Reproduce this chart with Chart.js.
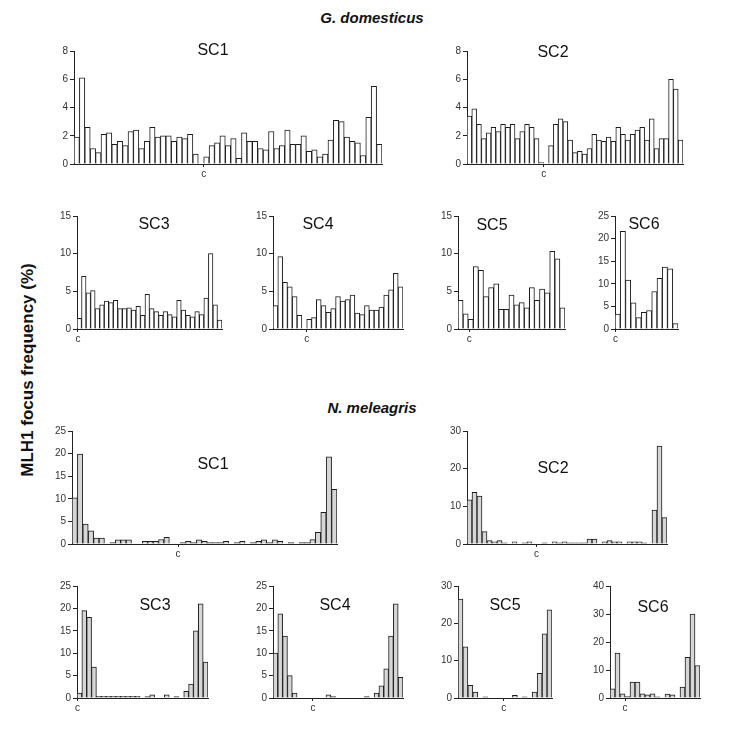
<!DOCTYPE html>
<html>
<head>
<meta charset="utf-8">
<script src="https://cdn.jsdelivr.net/npm/chart.js@4"></script>
<style>
  body { margin: 0; background: #fff; }
  #page { position: relative; width: 740px; height: 734px; font-family: "Liberation Sans", Arial, sans-serif; color: #111; }
  canvas { position: absolute; }
  .head { position: absolute; font-weight: bold; font-style: italic; font-size: 15px; transform: translateX(-50%); white-space: nowrap; }
  .sc { position: absolute; font-size: 16px; transform: translate(-50%, -50%); }
  #ylab { position: absolute; left: 28px; top: 370px; font-weight: bold; font-size: 17px; transform: translate(-50%, -50%) rotate(-90deg); white-space: nowrap; }
</style>
</head>
<body>
<div id="page">
  <div class="head" style="left:372px; top:9px">G. domesticus</div>
  <div class="head" style="left:372px; top:399px">N. meleagris</div>
  <div id="ylab">MLH1 focus frequency (%)</div>
</div>
<script>
// G. domesticus focus frequencies per interval (%)
const gdSC1 = [1.9, 6.1, 2.6, 1.1, 0.8, 2.1, 2.2, 1.4, 1.6, 1.3, 2.3, 2.4, 1.1, 1.6, 2.6, 1.9, 2.0, 2.0, 1.6, 1.9,
  1.8, 2.1, 0.7, 0, 0.5, 1.3, 1.5, 2.0, 1.3, 1.8, 0.4, 2.2, 1.6, 1.6, 1.1, 1.0, 2.3, 1.1, 1.3, 2.4,
  1.4, 1.4, 2.0, 0.9, 1.0, 0.5, 0.7, 1.7, 3.1, 3.0, 1.9, 1.6, 1.5, 0.6, 3.3, 5.5, 1.4];
const gdSC2 = [3.4, 3.9, 2.8, 1.8, 2.2, 2.6, 2.3, 2.8, 2.6, 2.8, 1.8, 2.3, 2.8, 2.6, 1.8, 0.1, 0, 1.3, 2.8, 3.2,
  3.0, 1.7, 0.8, 0.9, 0.7, 1.1, 2.1, 1.7, 1.6, 1.9, 1.6, 2.6, 2.1, 1.7, 2.1, 2.4, 2.6, 1.7, 3.2, 1.1,
  1.8, 1.8, 6.0, 5.3, 1.7];
const gdSC3 = [1.4, 7.0, 4.8, 5.1, 2.7, 3.2, 3.7, 3.5, 3.8, 2.7, 2.7, 2.8, 2.5, 3.0, 1.8, 4.6, 2.7, 2.3, 1.8, 2.3,
  1.9, 1.6, 3.8, 2.5, 1.8, 1.6, 2.3, 1.9, 4.1, 10.0, 3.2, 1.2];
const gdSC4 = [3.1, 9.6, 6.2, 5.6, 4.3, 1.8, 0, 1.3, 1.5, 3.9, 3.1, 2.2, 2.7, 4.3, 3.7, 3.9, 4.5, 2.1, 1.9, 3.1,
  2.5, 2.5, 2.9, 4.5, 5.2, 7.4, 5.6];
const gdSC5 = [3.8, 2.0, 1.3, 8.3, 7.8, 4.3, 5.5, 6.0, 2.6, 2.6, 4.5, 3.2, 3.5, 2.8, 5.5, 3.8, 5.3, 4.8, 10.3, 9.3, 2.8];
const gdSC6 = [3.3, 21.6, 10.8, 5.8, 2.5, 3.7, 4.1, 8.3, 11.2, 13.7, 13.3, 1.2];

// N. meleagris focus frequencies per interval (%)
const nmSC1 = [10.2, 19.9, 4.4, 2.9, 1.3, 1.3, 0, 0.3, 0.9, 0.9, 0.9, 0, 0, 0.6, 0.6, 0.6, 1.0, 1.5, 0, 0,
  0.3, 0.6, 0.3, 0.9, 0.6, 0.3, 0.3, 0.3, 0.6, 0, 0.3, 0.6, 0, 0.3, 0.6, 0.9, 0.3, 0.9, 0.6, 0,
  0.3, 0, 0.3, 0.3, 1.0, 2.6, 7.0, 19.3, 12.1];
const nmSC2 = [11.7, 13.7, 12.7, 3.3, 0.9, 0.6, 0.9, 0.3, 0, 0.6, 0, 0.3, 0.6, 0, 0, 0.3, 0, 0.6, 0.3, 0.6,
  0.3, 0.3, 0.3, 0.3, 1.3, 1.3, 0, 0.6, 0.9, 0.6, 0.6, 0, 0.6, 0.6, 0.6, 0.3, 0, 9.0, 26.0, 7.0];
const nmSC3 = [1.1, 19.5, 18.0, 6.9, 0.4, 0.4, 0.4, 0.4, 0.4, 0.4, 0.4, 0.4, 0.4, 0, 0.3, 0.7, 0, 0, 0.7, 0,
  0.3, 0, 1.5, 3.1, 15.0, 21.0, 8.0];
const nmSC4 = [10.0, 18.8, 13.8, 5.0, 1.1, 0, 0, 0, 0, 0, 0, 0.7, 0.3, 0, 0, 0, 0, 0, 0, 0.3,
  0, 1.1, 2.7, 6.5, 13.8, 21.0, 4.6];
const nmSC5 = [26.5, 13.7, 3.4, 1.6, 0, 0.3, 0, 0, 0, 0, 0, 0.7, 0, 0.3, 0, 1.6, 6.6, 17.2, 23.6];
const nmSC6 = [3.3, 16.0, 1.5, 0.5, 5.7, 5.7, 1.5, 1.1, 1.5, 0.4, 0, 1.4, 1.1, 0, 3.9, 14.5, 30.0, 11.6];

// centromere position (in intervals from the left end)
const gdCen = [24, 16, 0.2, 7, 2.2, 0.1];
const nmCen = [19.6, 13.9, 0.1, 8.3, 9.25, 3];

// y axis maxima and steps
const gdYMax = [8, 8, 15, 15, 15, 25];
const gdYStep = [2, 2, 5, 5, 5, 5];
const nmYMax = [25, 30, 25, 25, 30, 40];
const nmYStep = [5, 10, 5, 5, 10, 10];

const panelNames = ['SC1', 'SC2', 'SC3', 'SC4', 'SC5', 'SC6'];

// plot boxes: y-axis x, top of plot, baseline, right end, title centre
const gdBox = [
  { x: 74, top: 50, base: 164, right: 382, tx: 213, ty: 50 },
  { x: 467, top: 50, base: 164, right: 683, tx: 553, ty: 52 },
  { x: 77, top: 215, base: 329, right: 222, tx: 154, ty: 224 },
  { x: 273, top: 215, base: 329, right: 403, tx: 318, ty: 224 },
  { x: 458, top: 215, base: 329, right: 565, tx: 492, ty: 225 },
  { x: 615, top: 215, base: 329, right: 678, tx: 644, ty: 224 },
];
const nmBox = [
  { x: 72, top: 430, base: 544, right: 337, tx: 213, ty: 464 },
  { x: 467, top: 430, base: 544, right: 667, tx: 553, ty: 468 },
  { x: 77, top: 585, base: 698, right: 208, tx: 155, ty: 605 },
  { x: 273, top: 585, base: 698, right: 403, tx: 335, ty: 605 },
  { x: 458, top: 585, base: 698, right: 552, tx: 505, ty: 605 },
  { x: 610, top: 585, base: 698, right: 700, tx: 653, ty: 607 },
];

const Y_W = 26, X_H = 16, PAD_T = 7, PAD_R = 3;
const page = document.getElementById('page');

function makePanel(values, cen, yMax, yStep, box, name, fill) {
  const cv = document.createElement('canvas');
  const w = box.right - box.x + Y_W + PAD_R;
  const h = box.base - box.top + PAD_T + X_H;
  cv.width = w;
  cv.height = h;
  cv.style.left = (box.x - Y_W) + 'px';
  cv.style.top = (box.top - PAD_T) + 'px';
  page.appendChild(cv);

  const t = document.createElement('div');
  t.className = 'sc';
  t.style.left = box.tx + 'px';
  t.style.top = box.ty + 'px';
  t.textContent = name;
  page.appendChild(t);

  new Chart(cv.getContext('2d'), {
    type: 'bar',
    data: {
      datasets: [{
        data: values.map((v, i) => ({ x: i + 0.5, y: v })),
        backgroundColor: fill,
        borderColor: '#1c1c1c',
        borderWidth: 1,
        categoryPercentage: 1,
        barPercentage: 1,
      }],
    },
    options: {
      responsive: false,
      animation: false,
      layout: { padding: { top: PAD_T, right: PAD_R, left: 0, bottom: 0 } },
      plugins: { legend: { display: false }, tooltip: { enabled: false } },
      scales: {
        x: {
          type: 'linear',
          min: 0,
          max: values.length,
          offset: false,
          grid: { offset: false, drawOnChartArea: false, drawTicks: true, tickLength: 3, color: '#222' },
          border: { display: true, color: '#222', width: 1 },
          afterBuildTicks: (s) => { s.ticks = [{ value: cen }]; },
          afterFit: (s) => { s.height = X_H; },
          ticks: {
            autoSkip: false,
            maxRotation: 0,
            padding: 1,
            color: '#333',
            font: { family: 'Liberation Sans', size: 10 },
            callback: () => 'c',
          },
        },
        y: {
          min: 0,
          max: yMax,
          grid: { drawOnChartArea: false, drawTicks: true, tickLength: 4, color: '#222' },
          border: { display: true, color: '#222', width: 1 },
          afterFit: (s) => { s.width = Y_W; },
          ticks: {
            stepSize: yStep,
            padding: 2,
            color: '#333',
            font: { family: 'Liberation Sans', size: 10 },
          },
        },
      },
    },
  });
}

const gdData = [gdSC1, gdSC2, gdSC3, gdSC4, gdSC5, gdSC6];
const nmData = [nmSC1, nmSC2, nmSC3, nmSC4, nmSC5, nmSC6];

gdData.forEach((vals, i) => makePanel(vals, gdCen[i], gdYMax[i], gdYStep[i], gdBox[i], panelNames[i], '#ffffff'));
nmData.forEach((vals, i) => makePanel(vals, nmCen[i], nmYMax[i], nmYStep[i], nmBox[i], panelNames[i], '#d6d6d6'));
</script>
</body>
</html>
